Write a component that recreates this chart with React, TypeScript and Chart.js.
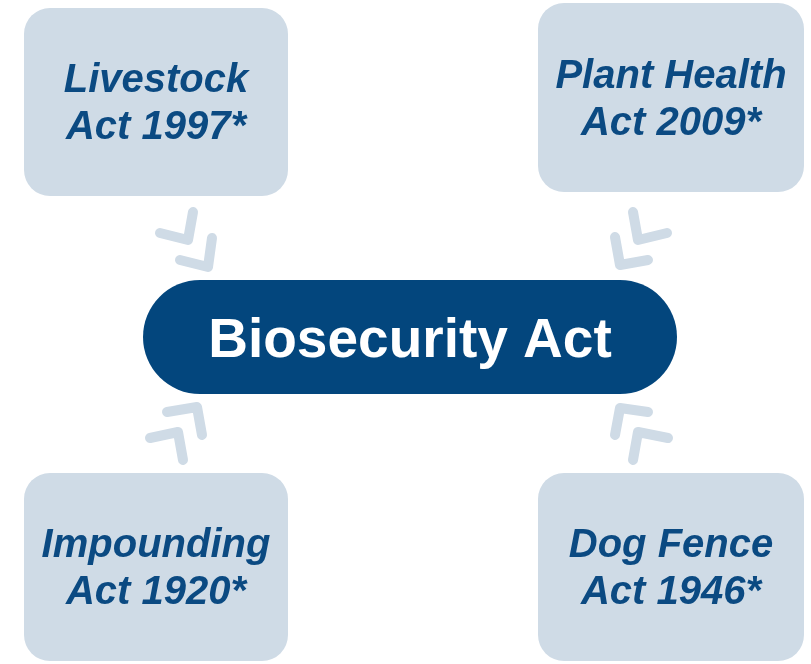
import React, { useEffect, useRef } from "react";
import { Chart, registerables } from "chart.js";

Chart.register(...registerables);

// Diagram content (coordinates in diagram units, 0..811 x 0..664)
const centerLabel = "Biosecurity Act";
const centerLeft = 143;
const centerRight = 677;
const centerTop = 280;
const centerBottom = 394;

const boxLines: string[][] = [
  ["Livestock", "Act 1997*"],
  ["Plant Health", "Act 2009*"],
  ["Impounding", "Act 1920*"],
  ["Dog Fence", "Act 1946*"],
];
const boxLeft = [24, 538, 24, 538];
const boxRight = [288, 804, 288, 804];
const boxTop = [8, 3, 473, 473];
const boxBottom = [196, 192, 661, 661];
const lineOffsets = [-21, 26];

// Chevron arrows, each 3 points: arm end, corner, arm end
const chevrons: { x: number; y: number }[][] = [
  [{ x: 160, y: 233 }, { x: 188, y: 240 }, { x: 193, y: 212 }],
  [{ x: 180, y: 260 }, { x: 208, y: 267 }, { x: 212, y: 238 }],
  [{ x: 667, y: 233 }, { x: 638, y: 240 }, { x: 633, y: 212 }],
  [{ x: 648, y: 260 }, { x: 620, y: 265 }, { x: 615, y: 237 }],
  [{ x: 167, y: 412 }, { x: 197, y: 407 }, { x: 202, y: 435 }],
  [{ x: 150, y: 438 }, { x: 178, y: 432 }, { x: 183, y: 460 }],
  [{ x: 648, y: 412 }, { x: 620, y: 408 }, { x: 615, y: 435 }],
  [{ x: 668, y: 438 }, { x: 638, y: 432 }, { x: 633, y: 460 }],
];

const BOX_COLOR = "#cfdbe6";
const CHEVRON_COLOR = "#cfdbe6";
const DARK = "#03467d";
const TEXT_DARK = "#0b4a82";

function roundRect(ctx: CanvasRenderingContext2D, x: number, y: number, w: number, h: number, r: number) {
  ctx.beginPath();
  ctx.moveTo(x + r, y);
  ctx.lineTo(x + w - r, y);
  ctx.arcTo(x + w, y, x + w, y + r, r);
  ctx.lineTo(x + w, y + h - r);
  ctx.arcTo(x + w, y + h, x + w - r, y + h, r);
  ctx.lineTo(x + r, y + h);
  ctx.arcTo(x, y + h, x, y + h - r, r);
  ctx.lineTo(x, y + r);
  ctx.arcTo(x, y, x + r, y, r);
  ctx.closePath();
}

const diagramPlugin = {
  id: "diagram",
  beforeDatasetsDraw(chart: any) {
    const ctx: CanvasRenderingContext2D = chart.ctx;
    const xs = chart.scales.x;
    const ys = chart.scales.y;
    ctx.save();
    for (let i = 0; i < boxLines.length; i++) {
      const l = xs.getPixelForValue(boxLeft[i]);
      const r = xs.getPixelForValue(boxRight[i]);
      const t = ys.getPixelForValue(boxTop[i]);
      const b = ys.getPixelForValue(boxBottom[i]);
      roundRect(ctx, l, t, r - l, b - t, 26);
      ctx.fillStyle = BOX_COLOR;
      ctx.fill();
    }
    const l = xs.getPixelForValue(centerLeft);
    const r = xs.getPixelForValue(centerRight);
    const t = ys.getPixelForValue(centerTop);
    const b = ys.getPixelForValue(centerBottom);
    roundRect(ctx, l, t, r - l, b - t, (b - t) / 2);
    ctx.fillStyle = DARK;
    ctx.fill();
    ctx.restore();
  },
  afterDatasetsDraw(chart: any) {
    const ctx: CanvasRenderingContext2D = chart.ctx;
    const xs = chart.scales.x;
    const ys = chart.scales.y;
    ctx.save();
    ctx.textAlign = "center";
    ctx.textBaseline = "middle";
    ctx.fillStyle = TEXT_DARK;
    ctx.font = "italic bold 40px 'Liberation Sans', Arial, sans-serif";
    for (let i = 0; i < boxLines.length; i++) {
      const cx = xs.getPixelForValue((boxLeft[i] + boxRight[i]) / 2);
      const cy = ys.getPixelForValue((boxTop[i] + boxBottom[i]) / 2);
      boxLines[i].forEach((line, j) => {
        ctx.fillText(line, cx, cy + lineOffsets[j]);
      });
    }
    ctx.fillStyle = "#ffffff";
    ctx.font = "bold 55px 'Liberation Sans', Arial, sans-serif";
    const cx = xs.getPixelForValue((centerLeft + centerRight) / 2);
    const cy = ys.getPixelForValue((centerTop + centerBottom) / 2);
    ctx.fillText(centerLabel, cx, cy + 5);
    ctx.restore();
  },
};

export default function App() {
  const ref = useRef<HTMLCanvasElement | null>(null);
  useEffect(() => {
    if (!ref.current) return;
    const chart = new Chart(ref.current, {
      type: "scatter",
      data: {
        datasets: chevrons.map((pts) => ({
          data: pts,
          showLine: true,
          borderColor: CHEVRON_COLOR,
          backgroundColor: CHEVRON_COLOR,
          borderWidth: 10,
          borderCapStyle: "round" as const,
          borderJoinStyle: "round" as const,
          pointRadius: 0,
          tension: 0,
        })),
      },
      options: {
        animation: false,
        responsive: false,
        maintainAspectRatio: false,
        layout: { padding: 0 },
        events: [],
        plugins: { legend: { display: false }, tooltip: { enabled: false } },
        scales: {
          x: { type: "linear", min: 0, max: 811, display: false },
          y: { type: "linear", min: 0, max: 664, reverse: true, display: false },
        },
      },
      plugins: [diagramPlugin],
    });
    return () => chart.destroy();
  }, []);
  return (
    <div style={{ position: "fixed", left: 0, top: 0, width: 811, height: 664, background: "#fff" }}>
      <canvas ref={ref} width={811} height={664} style={{ display: "block" }} />
    </div>
  );
}
